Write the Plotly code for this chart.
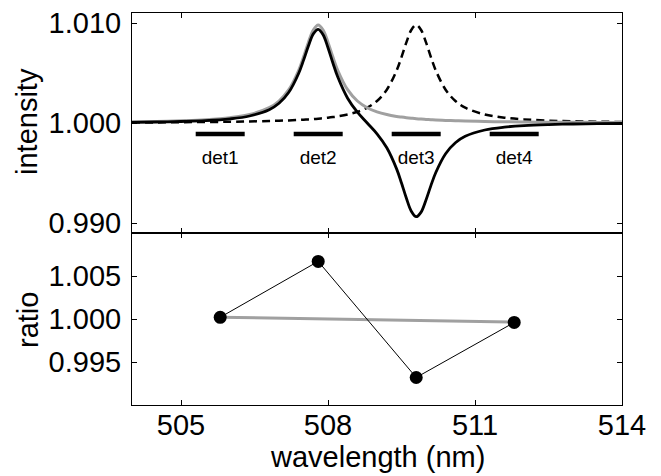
import plotly.graph_objects as go

# ---- data ----
wl = [504.0, 504.5, 505.0, 505.5, 506.0, 506.4, 506.8, 507.0, 507.2, 507.4, 507.5,
      507.6, 507.7, 507.8, 507.9, 508.0, 508.1, 508.2, 508.4, 508.6, 508.8, 509.0,
      509.2, 509.4, 509.5, 509.6, 509.7, 509.8, 509.9, 510.0, 510.1, 510.2, 510.4,
      510.6, 510.8, 511.2, 511.6, 512.0, 512.5, 513.0, 513.5, 514.0]

gray_int = [1.00012, 1.00016, 1.00023, 1.00033, 1.00053, 1.00085, 1.00153, 1.00220,
            1.00333, 1.00525, 1.00659, 1.00806, 1.00930, 1.00980, 1.00930, 1.00806,
            1.00659, 1.00525, 1.00333, 1.00220, 1.00153, 1.00112, 1.00085, 1.00066,
            1.00059, 1.00053, 1.00048, 1.00043, 1.00039, 1.00036, 1.00033, 1.00030,
            1.00026, 1.00023, 1.00020, 1.00015, 1.00012, 1.00010, 1.00008, 1.00007,
            1.00006, 1.00005]

dashed_int = [1.00005, 1.00006, 1.00008, 1.00010, 1.00012, 1.00015, 1.00020, 1.00023,
              1.00026, 1.00030, 1.00033, 1.00036, 1.00039, 1.00043, 1.00048, 1.00053,
              1.00059, 1.00066, 1.00085, 1.00112, 1.00153, 1.00220, 1.00333, 1.00525,
              1.00659, 1.00806, 1.00930, 1.00980, 1.00930, 1.00806, 1.00659, 1.00525,
              1.00333, 1.00220, 1.00153, 1.00085, 1.00053, 1.00036, 1.00024, 1.00017,
              1.00013, 1.00010]

black_int = [1.00007, 1.00010, 1.00015, 1.00023, 1.00041, 1.00070, 1.00133, 1.00197,
             1.00307, 1.00495, 1.00626, 1.00770, 1.00891, 1.00937, 1.00882, 1.00753,
             1.00600, 1.00459, 1.00248, 1.00108, 1.00000, 0.99892, 0.99752, 0.99541,
             0.99400, 0.99247, 0.99118, 0.99063, 0.99109, 0.99230, 0.99374, 0.99505,
             0.99693, 0.99803, 0.99867, 0.99930, 0.99959, 0.99974, 0.99984, 0.99990,
             0.99993, 0.99995]

det_centers = [505.8, 507.8, 509.8, 511.8]
det_start = [505.3, 507.3, 509.3, 511.3]
det_end = [506.3, 508.3, 510.3, 512.3]
det_labels = ["det1", "det2", "det3", "det4"]
det_bar_level = 0.9989
det_label_level = 0.9964

ratio_x = [505.8, 507.8, 509.8, 511.8]
ratio_black = [1.0002, 1.0067, 0.9932, 0.9996]
ratio_gray_x = [505.8, 511.8]
ratio_gray = [1.0002, 0.99965]

x_ticks = [505, 508, 511, 514]
y1_ticks = [0.990, 1.000, 1.010]
y2_ticks = [0.995, 1.000, 1.005]

GRAY = "#a0a0a0"
FONT = "Liberation Sans, Arial, sans-serif"

fig = go.Figure()

# intensity panel
fig.add_trace(go.Scatter(x=wl, y=dashed_int, mode="lines", line=dict(color="black", width=2.5, dash="8px,5px"),
                         line_shape="spline", xaxis="x", yaxis="y", showlegend=False))
fig.add_trace(go.Scatter(x=wl, y=gray_int, mode="lines", line=dict(color=GRAY, width=3),
                         line_shape="spline", xaxis="x", yaxis="y", showlegend=False))
fig.add_trace(go.Scatter(x=wl, y=black_int, mode="lines", line=dict(color="black", width=2.8),
                         line_shape="spline", xaxis="x", yaxis="y", showlegend=False))

bx, by = [], []
for s, e in zip(det_start, det_end):
    bx += [s, e, None]
    by += [det_bar_level, det_bar_level, None]
fig.add_trace(go.Scatter(x=bx, y=by, mode="lines", line=dict(color="black", width=4.5),
                         xaxis="x", yaxis="y", showlegend=False))
fig.add_trace(go.Scatter(x=det_centers, y=[det_label_level] * len(det_centers), mode="text",
                         text=det_labels, textfont=dict(size=19, color="black", family=FONT),
                         xaxis="x", yaxis="y", showlegend=False))

# ratio panel
fig.add_trace(go.Scatter(x=ratio_gray_x, y=ratio_gray, mode="lines", line=dict(color=GRAY, width=3),
                         xaxis="x2", yaxis="y2", showlegend=False))
fig.add_trace(go.Scatter(x=ratio_x, y=ratio_black, mode="lines+markers",
                         line=dict(color="black", width=1),
                         marker=dict(color="black", size=13),
                         xaxis="x2", yaxis="y2", showlegend=False))

L, R, T, B = 132, 39, 13, 71
W, H = 661, 476
PW, PH = W - L - R, H - T - B
split = 172 / PH
axis_common = dict(showline=True, linecolor="black", linewidth=1, mirror="ticks",
                   ticks="inside", ticklen=5, tickcolor="black", showgrid=False,
                   zeroline=False, automargin=False, ticklabeloverflow="allow")

fig.update_layout(
    width=W, height=H,
    margin=dict(l=L, r=R, t=T, b=B),
    paper_bgcolor="white", plot_bgcolor="white",
    font=dict(family=FONT, size=29, color="black"),
    xaxis=dict(domain=[0, 1], anchor="y", range=[504, 514], tickvals=x_ticks,
               showticklabels=False, **axis_common),
    yaxis=dict(domain=[split, 1], anchor="x", range=[0.989, 1.011], tickvals=y1_ticks,
               tickformat=".3f", ticklabelstandoff=4, **axis_common),
    xaxis2=dict(domain=[0, 1], anchor="y2", range=[504, 514], tickvals=x_ticks,
                ticklabelstandoff=-6, **axis_common),
    yaxis2=dict(domain=[0, split], anchor="x2", range=[0.990, 1.010], tickvals=y2_ticks,
                tickformat=".3f", ticklabelstandoff=4, **axis_common),
)

def px_x(p):
    return (p - L) / PW

def px_y(p):
    return (H - B - p) / PH

fig.add_annotation(text="intensity", textangle=-90, x=px_x(27), y=px_y(122),
                   xref="paper", yref="paper", showarrow=False, xanchor="center", yanchor="middle")
fig.add_annotation(text="ratio", textangle=-90, x=px_x(28), y=px_y(320),
                   xref="paper", yref="paper", showarrow=False, xanchor="center", yanchor="middle")
fig.add_annotation(text="wavelength (nm)", x=0.5, y=px_y(457),
                   xref="paper", yref="paper", showarrow=False, xanchor="center", yanchor="middle")

fig.write_html("out.html", config={"displayModeBar": False},
               post_script="document.body.style.margin='0';")
